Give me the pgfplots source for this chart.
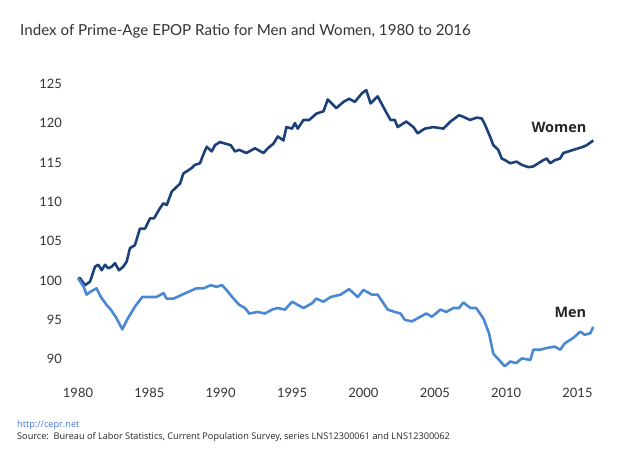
\documentclass[border=0pt]{standalone}
\usepackage{pgfplots}
\pgfplotsset{compat=1.18}
\usepackage{fontspec}
\setmainfont{Lato}
\newfontfamily\srcfont{Open Sans}
\definecolor{womenc}{RGB}{28,64,122}
\definecolor{menc}{RGB}{74,136,212}
\definecolor{txt}{RGB}{51,51,51}
\definecolor{linkc}{RGB}{70,120,220}
\begin{document}
\begin{tikzpicture}[x=1bp,y=1bp]
\useasboundingbox (0,0) rectangle (640,-456);
\node[anchor=west,text=txt,inner sep=0pt,font=\fontsize{15.2}{18}\selectfont] at (20,-31.5) {Index of Prime-Age EPOP Ratio for Men and Women, 1980 to 2016};
\begin{axis}[
  at={(78bp,-374.9bp)}, anchor=south west,
  scale only axis, width=516.6bp, height=299bp,
  xmin=1980, xmax=2016.2, ymin=88, ymax=126,
  axis line style={draw=none}, tick style={draw=none},
  xtick={1980,1985,...,2015}, ytick={90,95,...,125},
  /pgf/number format/assume math mode=true,
  /pgf/number format/1000 sep={},
  ticklabel style={text=txt,font=\fontsize{13}{15}\selectfont,inner sep=0pt},
  yticklabel style={anchor=east,xshift=-16bp},
  xticklabel style={anchor=base,yshift=-23bp},
  clip=false,
]
\addplot[womenc,line width=2.6bp,line join=round] coordinates {
(1980.0,100.3)(1980.14,100.3)(1980.49,99.4)(1980.84,99.85)(1981.19,101.75)(1981.42,102.0)(1981.66,101.3)(1981.89,102.0)(1982.12,101.55)(1982.36,101.75)(1982.59,102.2)(1982.87,101.3)(1983.17,101.75)(1983.41,102.4)(1983.64,104.1)(1983.99,104.5)(1984.34,106.6)(1984.70,106.6)(1985.05,107.9)(1985.33,107.9)(1985.52,108.5)(1985.75,109.2)(1985.98,109.8)(1986.22,109.6)(1986.57,111.3)(1986.80,111.7)(1987.15,112.3)(1987.38,113.6)(1987.73,114.0)(1987.97,114.3)(1988.20,114.7)(1988.55,114.9)(1988.78,116.0)(1989.02,117.0)(1989.37,116.4)(1989.60,117.2)(1989.95,117.6)(1990.30,117.4)(1990.7,117.2)(1991.0,116.4)(1991.3,116.6)(1991.8,116.2)(1992.4,116.8)(1993.0,116.2)(1993.3,116.8)(1993.7,117.4)(1994.0,118.3)(1994.4,117.8)(1994.6,119.5)(1995.0,119.3)(1995.2,120.0)(1995.4,119.3)(1995.8,120.4)(1996.2,120.4)(1996.7,121.2)(1997.2,121.5)(1997.5,123.0)(1998.1,121.9)(1998.6,122.7)(1999.0,123.1)(1999.4,122.7)(1999.9,123.8)(2000.2,124.2)(2000.5,122.5)(2001.0,123.4)(2001.5,121.7)(2001.9,120.4)(2002.2,120.4)(2002.4,119.5)(2003.0,120.2)(2003.5,119.5)(2003.8,118.7)(2004.3,119.3)(2004.9,119.5)(2005.6,119.3)(2006.1,120.2)(2006.7,121.0)(2007.0,120.8)(2007.47,120.4)(2007.94,120.7)(2008.29,120.6)(2008.52,119.8)(2008.87,118.3)(2009.10,117.2)(2009.45,116.6)(2009.69,115.5)(2009.92,115.3)(2010.27,114.9)(2010.74,115.1)(2011.09,114.7)(2011.56,114.4)(2011.91,114.5)(2012.26,114.9)(2012.61,115.3)(2012.85,115.5)(2013.08,114.9)(2013.43,115.3)(2013.78,115.5)(2014.01,116.2)(2014.36,116.4)(2014.71,116.6)(2015.06,116.8)(2015.41,117.0)(2015.65,117.2)(2016.11,117.8)
};
\addplot[menc,line width=2.6bp,line join=round] coordinates {
(1980.0,100.3)(1980.4,99.2)(1980.6,98.2)(1980.9,98.6)(1981.3,99.0)(1981.6,97.9)(1982.0,96.9)(1982.3,96.3)(1982.7,95.2)(1983.1,93.8)(1983.5,95.2)(1984.0,96.7)(1984.5,97.9)(1985.1,97.9)(1985.5,97.9)(1986.0,98.4)(1986.2,97.7)(1986.7,97.7)(1987.3,98.2)(1987.8,98.6)(1988.3,99.0)(1988.8,99.0)(1989.3,99.4)(1989.7,99.2)(1990.1,99.4)(1990.4,98.8)(1990.9,97.7)(1991.3,96.9)(1991.7,96.5)(1992.0,95.8)(1992.6,96.0)(1993.1,95.8)(1993.6,96.3)(1994.0,96.5)(1994.5,96.3)(1995.0,97.3)(1995.4,96.9)(1995.8,96.5)(1996.4,97.1)(1996.7,97.7)(1997.2,97.3)(1997.7,97.9)(1998.4,98.2)(1999.0,98.9)(1999.6,97.9)(2000.0,98.8)(2000.6,98.2)(2001.0,98.2)(2001.7,96.3)(2002.2,96.0)(2002.6,95.8)(2002.9,95.0)(2003.4,94.8)(2003.8,95.2)(2004.4,95.8)(2004.8,95.4)(2005.4,96.3)(2005.8,96.0)(2006.3,96.5)(2006.7,96.5)(2007.0,97.2)(2007.5,96.5)(2007.9,96.5)(2008.4,95.2)(2008.8,93.3)(2009.1,90.7)(2009.5,89.9)(2009.9,89.1)(2010.3,89.7)(2010.7,89.5)(2011.1,90.1)(2011.7,89.9)(2011.9,91.2)(2012.4,91.2)(2012.8,91.4)(2013.4,91.6)(2013.8,91.2)(2014.1,92.0)(2014.7,92.7)(2015.2,93.5)(2015.5,93.1)(2015.9,93.3)(2016.1,94.1)
};
\node[font=\srcfont\bfseries\fontsize{14.5}{17}\selectfont,text=black!85,inner sep=0pt] at (axis cs:2013.7,119.5) {Women};
\node[font=\srcfont\bfseries\fontsize{14.5}{17}\selectfont,text=black!85,inner sep=0pt] at (axis cs:2014.5,96.0) {Men};
\end{axis}
\node[anchor=west,inner sep=0pt,text=linkc,font=\srcfont\fontsize{9.2}{11}\selectfont] at (17,-425) {http://cepr.net};
\node[anchor=west,inner sep=0pt,text=black!85,font=\srcfont\fontsize{9.2}{11}\selectfont] at (17,-437) {Source:\ \ Bureau of Labor Statistics, Current Population Survey, series LNS12300061 and LNS12300062};
\end{tikzpicture}
\end{document}
